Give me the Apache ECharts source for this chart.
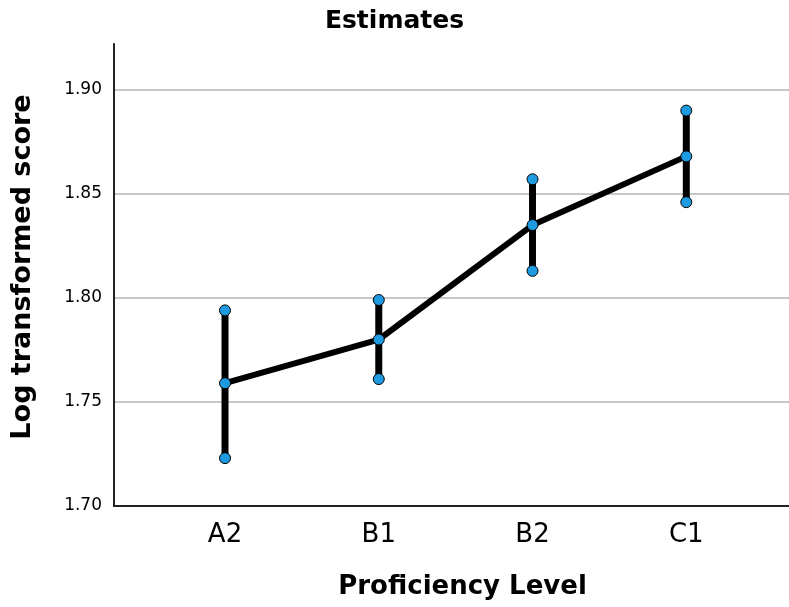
<!DOCTYPE html>
<html>
<head>
<meta charset="utf-8">
<script src="https://cdn.jsdelivr.net/npm/echarts@6/dist/echarts.min.js"></script>
<style>
  html, body { margin: 0; padding: 0; background: #fff; }
  #chart { width: 789px; height: 607px; }
</style>
</head>
<body>
<div id="chart"></div>
<script>
// values
const categories = ['A2', 'B1', 'B2', 'C1']
const means = [1.759, 1.780, 1.835, 1.868]
const lowers = [1.723, 1.761, 1.813, 1.846]
const uppers = [1.794, 1.799, 1.857, 1.890]

const positions = categories.map((c, i) => i + 1)
const font = 'DejaVu Sans'
const dotColor = '#1e9be0'

const meanData = positions.map((x, i) => [x, means[i]])
const endData = positions.map((x, i) => [x, lowers[i]]).concat(positions.map((x, i) => [x, uppers[i]]))
const barData = positions.map((x, i) => [x, lowers[i], uppers[i]])

const chart = echarts.init(document.getElementById('chart'))
chart.setOption({
  animation: false,
  title: {
    text: 'Estimates',
    left: 'center',
    top: 4,
    textStyle: { fontFamily: font, fontWeight: 'bold', fontSize: 25, color: '#000' }
  },
  grid: { left: 114, right: 0, top: 44, bottom: 101 },
  xAxis: {
    type: 'value',
    min: 0.278,
    max: 4.668,
    name: 'Proficiency Level',
    nameLocation: 'middle',
    nameGap: 68,
    nameTextStyle: { fontFamily: font, fontWeight: 'bold', fontSize: 26, color: '#000', padding: [0, 0, 0, 22] },
    axisLine: { lineStyle: { color: '#222', width: 2 } },
    axisTick: { show: false },
    splitLine: { show: false },
    axisLabel: {
      customValues: positions,
      formatter: v => categories[Math.round(v) - 1] || '',
      margin: 16,
      fontFamily: font,
      fontSize: 26,
      color: '#000'
    }
  },
  yAxis: {
    type: 'value',
    min: 1.70,
    max: 1.922,
    interval: 0.05,
    name: 'Log transformed score',
    nameLocation: 'middle',
    nameGap: 78,
    nameTextStyle: { fontFamily: font, fontWeight: 'bold', fontSize: 27, color: '#000', padding: [0, 0, 0, 16] },
    axisLine: { show: true, lineStyle: { color: '#222', width: 2 } },
    axisTick: { show: false },
    axisLabel: {
      showMaxLabel: false,
      formatter: v => v.toFixed(2),
      margin: 12,
      fontFamily: font,
      fontSize: 17,
      color: '#000'
    },
    splitLine: { showMinLine: false, showMaxLine: false, lineStyle: { color: '#b4b4b4', width: 1.5 } }
  },
  series: [
    {
      type: 'custom',
      z: 2,
      data: barData,
      renderItem: function (params, api) {
        const lo = api.coord([api.value(0), api.value(1)])
        const hi = api.coord([api.value(0), api.value(2)])
        return {
          type: 'line',
          shape: { x1: lo[0], y1: lo[1], x2: hi[0], y2: hi[1] },
          style: { stroke: '#000', lineWidth: 7 }
        }
      }
    },
    {
      type: 'line',
      z: 3,
      data: meanData,
      symbol: 'circle',
      symbolSize: 11,
      lineStyle: { color: '#000', width: 6 },
      itemStyle: { color: dotColor, borderColor: '#000', borderWidth: 1 }
    },
    {
      type: 'scatter',
      z: 4,
      data: endData,
      symbol: 'circle',
      symbolSize: 11,
      itemStyle: { color: dotColor, borderColor: '#000', borderWidth: 1, opacity: 1 }
    }
  ]
})
</script>
</body>
</html>
